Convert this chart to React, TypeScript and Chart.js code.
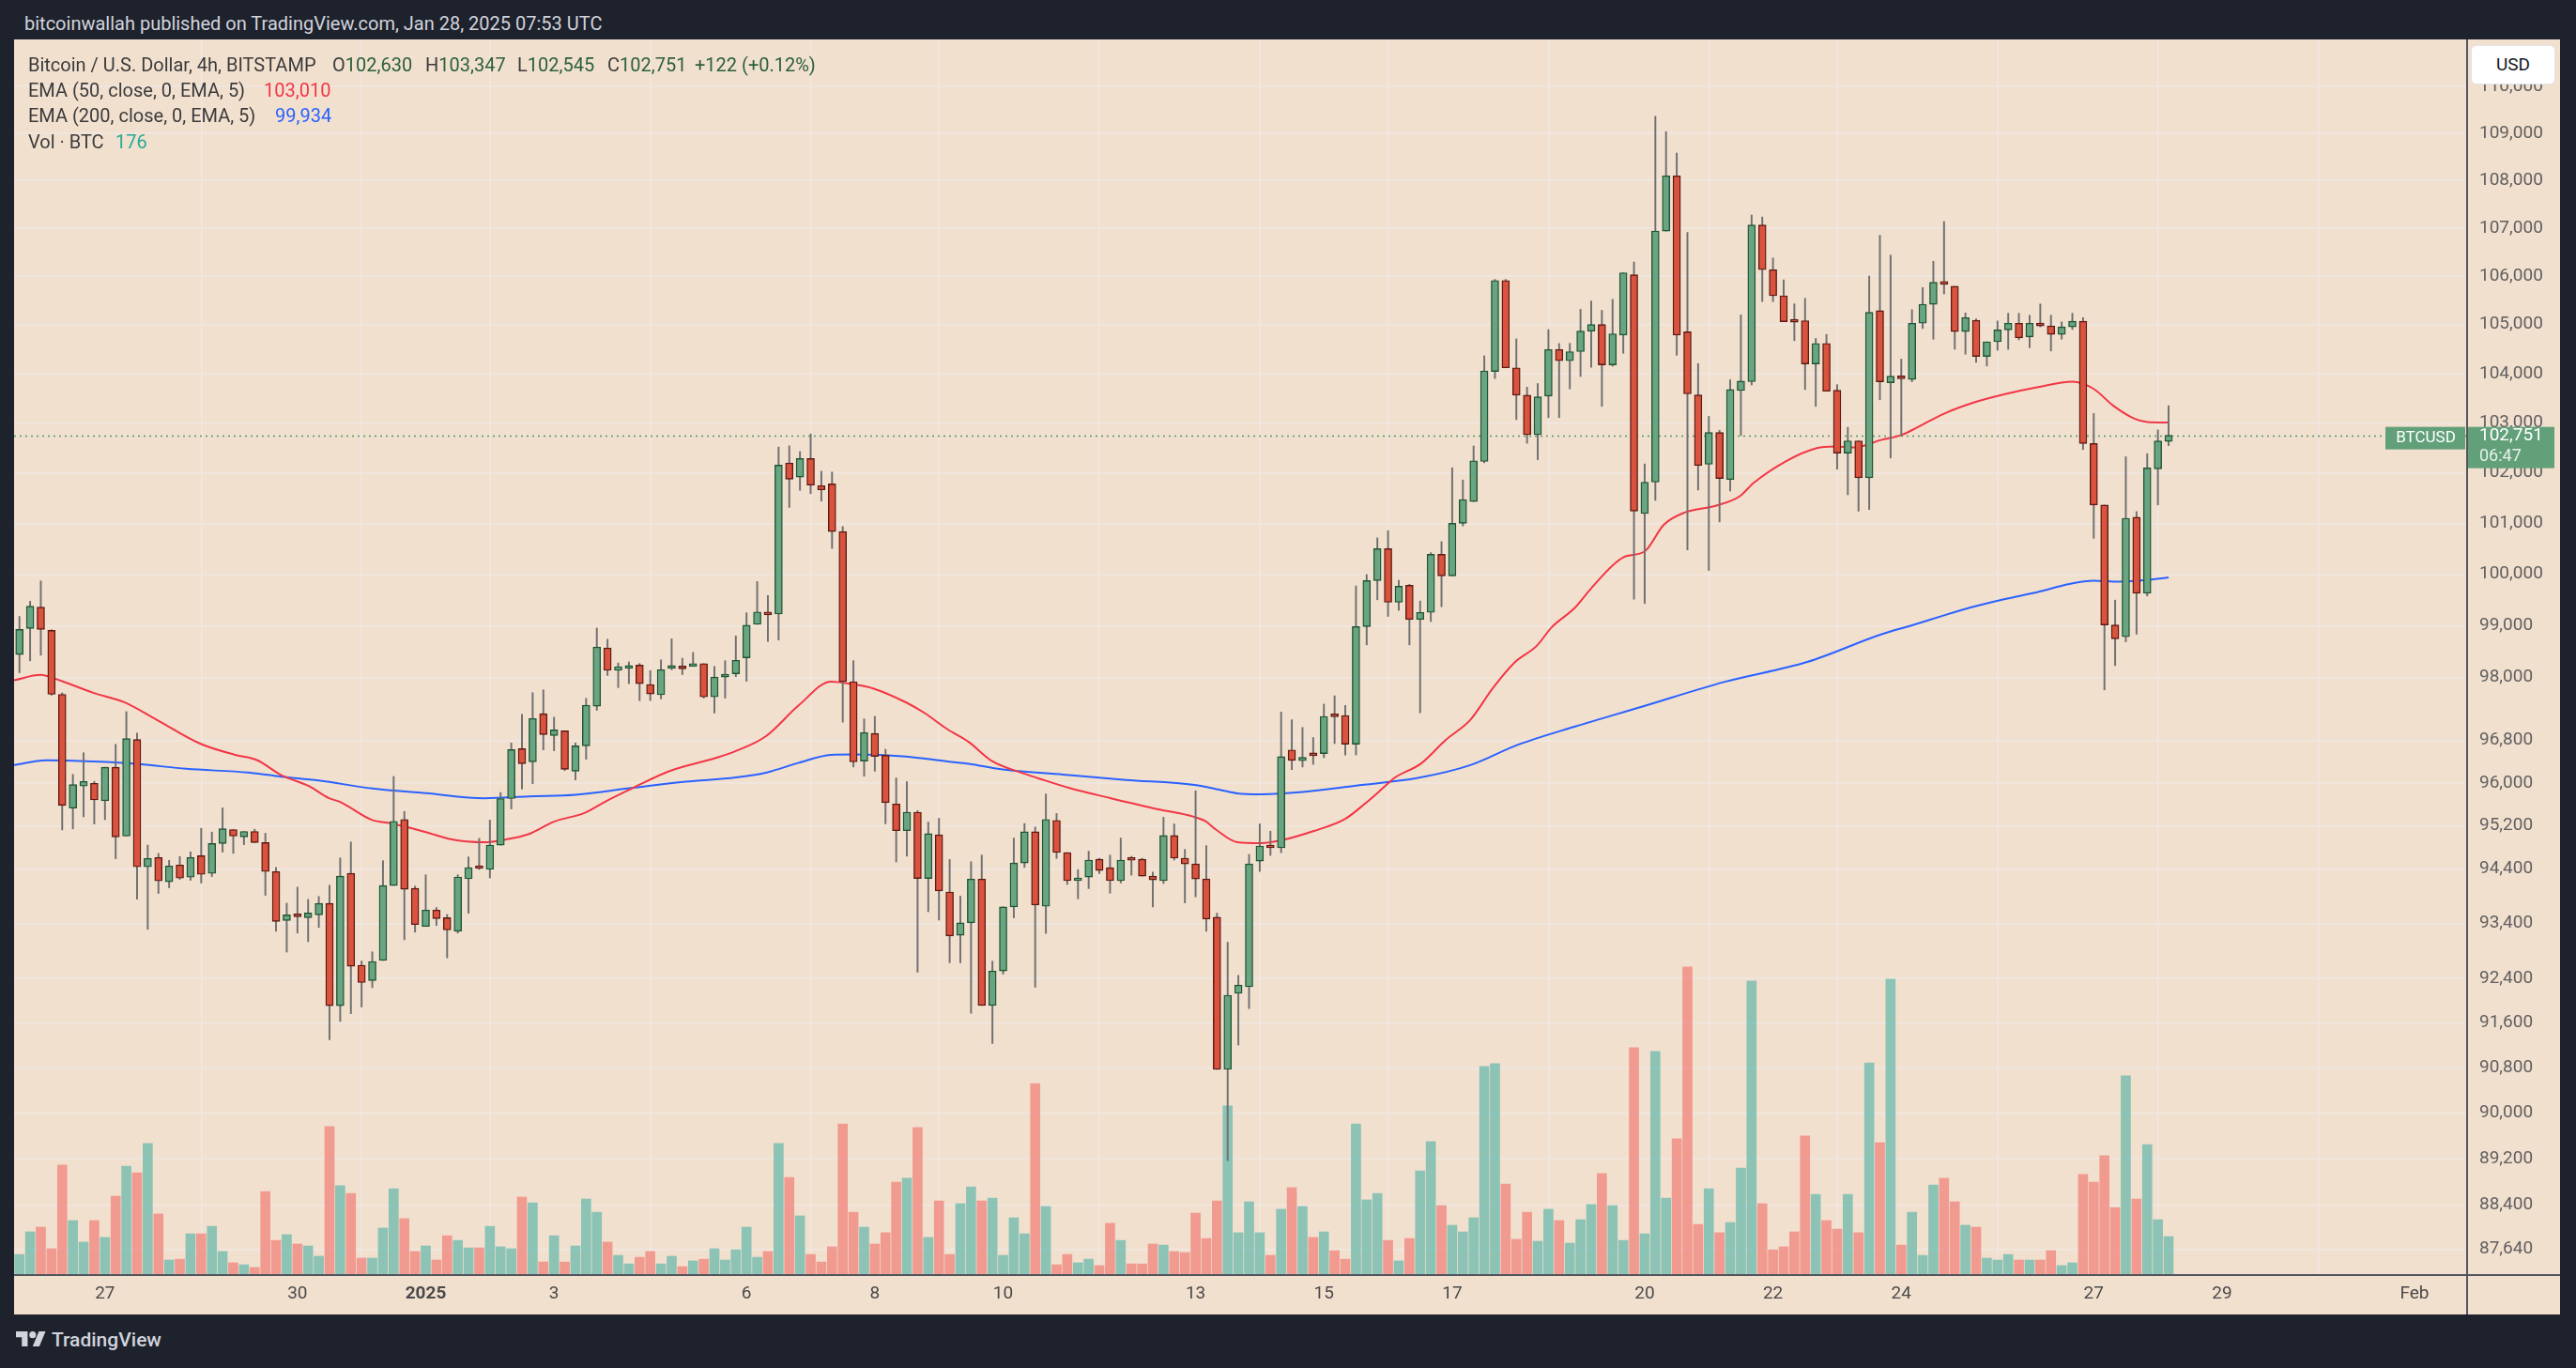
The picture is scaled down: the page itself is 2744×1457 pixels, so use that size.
import React, { useEffect, useRef } from "react";
import { Chart, registerables } from "chart.js";

Chart.register(...registerables);

// BTC/USD 4h candles (Bitstamp). Index 0 = Dec 25, 16:00; one step = 4 hours.
const opens = [
  98440, 98944, 99358, 98908, 97678, 95528, 95942, 95994,
  95666, 96296, 95009, 96820, 94439, 94612, 94163, 94474, 94249, 94646,
  94318, 94871, 95130, 94992, 95096, 94888, 94353, 93454, 93575, 93506,
  93558, 93767, 91911, 94321, 92640, 92362, 92727, 94096, 95319, 94044,
  93344, 93645, 93506, 93258, 94218, 94443, 94391, 94842, 95709, 96647,
  96399, 97308, 96894, 96984, 96222, 96700, 97452, 98568, 98136, 98174,
  98237, 97867, 97669, 98174, 98221, 98213, 98268, 97629, 98008, 98071,
  98378, 99024, 99264, 99224, 102197, 101915, 102287, 101746, 101780, 100837,
  97921, 96412, 96934, 96523, 95608, 95109, 95454, 94224, 95032, 93977,
  93183, 93411, 94213, 91914, 92537, 93703, 94511, 95089, 93714, 95300,
  94704, 94183, 94251, 94581, 94424, 94183, 94570, 94581, 94269, 94183,
  95019, 94599, 94494, 94217, 93514, 90772, 92132, 92250, 94546, 94826,
  94790, 96622, 96418, 96552, 96552, 97257, 97276, 96730, 98980, 99875,
  100500, 99451, 99783, 99118, 99255, 100388, 99967, 101000, 101430, 102228,
  104041, 105909, 104116, 103561, 102763, 103541, 104490, 104259, 104446, 104865,
  105000, 104176, 104784, 106028, 101192, 101815, 106938, 108098, 104851, 103567,
  102171, 102807, 101867, 103654, 103834, 107063, 106132, 105594, 105060, 105080,
  104196, 104615, 103660, 102395, 102640, 101901, 105287, 103813, 103927, 103880,
  105027, 105418, 105871, 105789, 104856, 105089, 104347, 104647, 104890, 105027,
  104747, 105027, 104973, 104800, 104953, 105068, 102586, 101362, 99013, 98782,
  101118, 99627, 102079, 102630,
];
const highs = [
  99178, 99472, 99868, 98920, 97708, 96160, 96569, 96030,
  96296, 96729, 97348, 96940, 94842, 94687, 94560, 94629, 94716, 95153,
  95084, 95533, 95130, 95096, 95136, 95061, 94428, 93771, 94065, 93840,
  93894, 94102, 94605, 94899, 92715, 92883, 94553, 96122, 95467, 94085,
  94292, 93691, 93564, 94292, 94622, 94968, 95307, 95821, 96753, 97296,
  97710, 97764, 97242, 96984, 96753, 97602, 98952, 98736, 98280, 98300,
  98268, 98134, 98339, 98744, 98370, 98481, 98268, 98213, 98323, 98800,
  99248, 99856, 99584, 102516, 102541, 102426, 102779, 102033, 102016, 100935,
  98323, 97210, 97258, 96634, 96095, 96024, 95485, 95270, 95340, 94575,
  93897, 94534, 94657, 92714, 93703, 94972, 95241, 95177, 95794, 95429,
  94704, 94389, 94728, 94599, 94657, 94972, 94634, 94599, 94343, 95359,
  95235, 94762, 95853, 94832, 93588, 93057, 92457, 94669, 95235, 95100,
  97340, 97194, 97048, 96857, 97492, 97651, 97467, 99770, 99993, 100711,
  100855, 99881, 99803, 99477, 100421, 100638, 102101, 101858, 102537, 104361,
  105930, 105930, 104707, 103723, 103797, 104898, 104612, 104615, 105314, 105487,
  105294, 105520, 106069, 106292, 102178, 109363, 109035, 108580, 106910, 104203,
  103133, 102853, 103874, 105200, 107273, 107231, 106375, 105924, 105427, 105540,
  104716, 104797, 103774, 102913, 102640, 106000, 106848, 106435, 104293, 105306,
  105762, 106306, 107136, 105789, 105240, 105116, 104647, 105075, 105233, 105233,
  105192, 105424, 105192, 105055, 105233, 105144, 103193, 101362, 99494, 102322,
  101230, 102382, 102860, 103347,
];
const lows = [
  98092, 98320, 98428, 97660, 95124, 95142, 95366, 95234,
  95315, 94589, 95009, 93846, 93293, 93950, 94053, 94209, 94191, 94140,
  94261, 94710, 94687, 94848, 94888, 93915, 93258, 92878, 93224, 93068,
  93327, 91298, 91628, 91767, 91888, 92235, 92727, 94096, 93102, 93241,
  93344, 93362, 92773, 93223, 93587, 94391, 94235, 94842, 95514, 95886,
  95986, 96623, 96605, 96234, 96057, 96446, 97374, 98040, 97806, 97883,
  97558, 97558, 97590, 98150, 98056, 98213, 97606, 97322, 97606, 98016,
  97929, 99024, 98693, 98720, 101313, 101653, 101585, 101440, 100504, 97148,
  96301, 96127, 96222, 95238, 94530, 94636, 92514, 93614, 93461, 92686,
  92686, 91774, 91914, 91234, 92480, 93503, 94429, 92243, 93217, 94593,
  94115, 93851, 94039, 94314, 93954, 94143, 94286, 94269, 93703, 94131,
  94564, 93777, 93886, 93257, 90772, 89169, 91206, 91858, 94354, 94650,
  94700, 96250, 96300, 96350, 96476, 96743, 96527, 96527, 98627, 99500,
  99177, 99294, 98627, 97327, 99078, 99366, 99967, 100946, 101430, 102202,
  103899, 104116, 103068, 102591, 102262, 103108, 103108, 103687, 103940, 104128,
  103334, 104149, 104412, 99513, 99428, 101452, 106938, 104372, 100477, 101658,
  100073, 101026, 101638, 102747, 103767, 105473, 105473, 105060, 104669, 103674,
  103334, 103640, 102073, 101563, 101239, 101272, 103467, 102296, 102750, 103833,
  104918, 104700, 105630, 104493, 104393, 104227, 104153, 104473, 104493, 104687,
  104527, 104953, 104460, 104700, 104900, 102467, 100704, 97763, 98229, 98686,
  98834, 99575, 101362, 102545,
];
const closes = [
  98926, 99376, 98926, 97678, 95580, 95971, 96030, 95683,
  96296, 94992, 96838, 94439, 94595, 94180, 94456, 94232, 94612, 94301,
  94871, 95147, 95009, 95096, 94888, 94353, 93437, 93558, 93523, 93592,
  93767, 91911, 94269, 92622, 92327, 92709, 94096, 95284, 94027, 93379,
  93645, 93489, 93281, 94252, 94426, 94408, 94842, 95709, 96629, 96363,
  97218, 96912, 97002, 96257, 96700, 97470, 98586, 98136, 98208, 98221,
  97883, 97685, 98150, 98205, 98166, 98268, 97629, 98008, 98063, 98331,
  99008, 99264, 99208, 102155, 101873, 102287, 101754, 101661, 100837, 97921,
  96396, 96950, 96499, 95631, 95109, 95454, 94224, 95055, 93996, 93172,
  93411, 94213, 91914, 92537, 93703, 94511, 95089, 93737, 95318, 94704,
  94183, 94217, 94564, 94371, 94183, 94564, 94560, 94269, 94200, 95019,
  94599, 94494, 94217, 93480, 90772, 92098, 92283, 94494, 94826, 94790,
  96495, 96425, 96482, 96514, 97257, 97250, 96730, 98980, 99875, 100500,
  99451, 99764, 99118, 99255, 100388, 99967, 101000, 101470, 102242, 104054,
  105909, 104116, 103561, 102763, 103527, 104490, 104259, 104446, 104865, 105000,
  104176, 104811, 106069, 101239, 101815, 106938, 108098, 104784, 103587, 102147,
  102807, 101887, 103674, 103847, 107063, 106132, 105594, 105060, 105050, 104196,
  104615, 103640, 102395, 102640, 101901, 105253, 103831, 103947, 103893, 105027,
  105418, 105871, 105830, 104856, 105144, 104347, 104647, 104890, 105027, 104727,
  105027, 104973, 104800, 104953, 105068, 102586, 101362, 99013, 98745, 101099,
  99627, 102099, 102638, 102751,
];
const volumes = [
  92, 198, 220, 119, 511, 251, 150, 251,
  172, 365, 506, 475, 612, 282, 66, 70, 189, 189,
  224, 106, 53, 44, 31, 387, 158, 185, 141, 132,
  84, 691, 414, 378, 75, 75, 216, 400, 260, 106,
  132, 66, 180, 158, 123, 123, 224, 128, 119, 361,
  334, 57, 180, 57, 132, 352, 290, 150, 88, 48,
  79, 106, 48, 84, 35, 62, 70, 119, 66, 114,
  220, 79, 106, 612, 453, 273, 92, 57, 128, 704,
  290, 220, 141, 194, 431, 449, 687, 172, 343, 92,
  330, 409, 343, 356, 88, 264, 189, 893, 317, 44,
  92, 53, 70, 40, 238, 158, 48, 48, 141, 136,
  106, 101, 286, 167, 343, 788, 194, 339, 194, 88,
  304, 405, 317, 172, 198, 110, 70, 704, 348, 378,
  158, 62, 167, 484, 621, 321, 229, 198, 264, 973,
  986, 422, 163, 290, 154, 304, 251, 145, 255, 326,
  471, 321, 158, 1061, 189, 1043, 356, 634, 1439, 233,
  400, 194, 242, 497, 1373, 330, 114, 128, 198, 647,
  374, 251, 211, 374, 194, 990, 616, 1382, 136, 290,
  88, 418, 449, 339, 229, 220, 75, 66, 92, 66,
  66, 66, 110, 40, 53, 467, 431, 555, 312, 929,
  352, 607, 255, 176,
];

// EMA lines (candle index, value)
const ema50Idx = [
  -0.5, 2, 3.3, 6.9, 9.8, 12.8, 16.9, 20.1, 22.2, 24.5, 27.1, 28.9, 30, 33, 34.7, 38,
  40.3, 43.5, 45.3, 47.6, 50, 52.9, 54.9, 57.4, 60.8, 65.2, 67, 69.8, 72.9, 75.9,
  78.1, 79.9, 82.9, 84.6, 86.8, 88.8, 90.9, 93.8, 95.3, 98.2, 102, 106.4, 109.9,
  110.9, 111.9, 113.9, 116.1, 118, 121, 124, 126, 127.5, 128.6, 131.1, 133.4, 135.7,
  137.8, 139.8, 141.9, 143.3, 145.5, 147, 150, 152, 153.8, 155.8, 158.7, 160.9, 162.2,
  165.2, 168.1, 169.8, 171.6, 174.1, 176, 177.3, 180, 182.9, 185.8, 188.7, 192, 194,
  195.8, 197.8, 199, 201,
];
const ema50Val = [
  97948, 98050, 97978, 97708, 97528, 97198, 96741, 96533, 96432, 96148, 95939, 95720, 95644, 95307, 95248, 95084,
  94951, 94893, 94940, 95044, 95278, 95443, 95663, 95909, 96223, 96475, 96601, 96879, 97471, 97921,
  97866, 97787, 97526, 97329, 97013, 96771, 96420, 96187, 96088, 95906, 95718, 95512, 95365,
  95289, 95130, 94895, 94877, 94930, 95100, 95330, 95640, 95900, 96095, 96368, 96813, 97194,
  97797, 98281, 98608, 98967, 99350, 99724, 100329, 100447, 100974, 101217, 101349, 101536, 101800,
  102230, 102494, 102526, 102507, 102658, 102757, 102888, 103187, 103420, 103587, 103720, 103833, 103687,
  103353, 103087, 103020, 103010,
];
const ema200Idx = [
  -0.5, 2.5, 6.9, 11.2, 15.6, 21.4, 24.5, 28, 33, 38, 43.5, 47.6, 52, 57.4, 62.3, 67,
  69.9, 72.9, 75.9, 78.1, 82.9, 86.8, 88.8, 91.8, 97.6, 103.5, 109.9, 112.2, 113.9, 116.1,
  120, 125, 130.8, 135.7, 140.1, 145.5, 151.8, 159.5, 167.2, 174.1, 177, 180, 182.9,
  185.8, 188.7, 191.7, 194, 196.4, 199, 201,
];
const ema200Val = [
  96337, 96426, 96403, 96355, 96266, 96196, 96119, 96047, 95897, 95809, 95714, 95750, 95779, 95909, 96024, 96103,
  96198, 96380, 96530, 96538, 96499, 96404, 96362, 96257, 96158, 96058, 95965, 95877, 95806, 95788,
  95830, 95950, 96095, 96336, 96717, 97067, 97445, 97918, 98298, 98827, 99006, 99198, 99372,
  99519, 99648, 99808, 99872, 99853, 99885, 99934,
];

const dayTickIndex = [8, 26, 38, 50, 68, 80, 92, 110, 122, 134, 152, 164, 176, 194, 206, 224];
const dayTickLabels = ["27", "30", "2025", "3", "6", "8", "10", "13", "15", "17", "20", "22", "24", "27", "29", "Feb"];
const priceTicks = [
  87640, 88400, 89200, 90000, 90800, 91600, 92400, 93400, 94400, 95200, 96000, 96800,
  98000, 99000, 100000, 101000, 102000, 103000, 104000, 105000, 106000, 107000, 108000, 109000, 110000,
];

const X_MIN = -0.5;
const X_MAX = 228.83;
const P_MIN = 87212;
const P_MAX = 111019;
const V_MAX = 5786;

const UP_BODY = "#6aa583";
const UP_BORDER = "#1f5632";
const DN_BODY = "#d9533f";
const DN_BORDER = "#5e1a12";
const WICK = "#707070";
const VOL_UP = "rgba(38,166,154,0.5)";
const VOL_DN = "rgba(239,83,80,0.5)";
const TAG = "#62a07a";
const FONT = "Roboto";

const fmt = (v: number) => Math.round(v).toLocaleString("en-US");

const overlayPlugin = {
  id: "overlay",
  beforeDatasetsDraw(chart: any) {
    const { ctx, chartArea, scales } = chart;
    const y = Math.round(scales.y.getPixelForValue(closes[closes.length - 1])) + 0.5;
    ctx.save();
    ctx.setLineDash([2, 4]);
    ctx.strokeStyle = "#4e9a6c";
    ctx.lineWidth = 1.5;
    ctx.beginPath();
    ctx.moveTo(chartArea.left, y);
    ctx.lineTo(chartArea.right, y);
    ctx.stroke();
    ctx.restore();
  },
  afterDraw(chart: any) {
    const { ctx, chartArea, scales, width, height } = chart;
    ctx.save();
    ctx.strokeStyle = "#52555e";
    ctx.lineWidth = 2;
    ctx.beginPath();
    ctx.moveTo(chartArea.right + 1, 0);
    ctx.lineTo(chartArea.right + 1, height);
    ctx.moveTo(0, chartArea.bottom + 1);
    ctx.lineTo(width, chartArea.bottom + 1);
    ctx.stroke();

    const last = closes[closes.length - 1];
    const y = scales.y.getPixelForValue(last);
    // on-chart symbol tag
    ctx.fillStyle = TAG;
    ctx.fillRect(chartArea.right - 86, y - 9, 85, 24);
    ctx.fillStyle = "#ffffff";
    ctx.font = `17px ${FONT}`;
    ctx.textAlign = "center";
    ctx.textBaseline = "middle";
    ctx.fillText("BTCUSD", chartArea.right - 43, y + 3);
    // axis price tag
    ctx.fillStyle = TAG;
    ctx.fillRect(chartArea.right + 2, y - 9, 92, 44);
    ctx.fillStyle = "#ffffff";
    ctx.textAlign = "left";
    ctx.font = `19px ${FONT}`;
    ctx.fillText(fmt(last), chartArea.right + 14, y + 1);
    ctx.font = `18px ${FONT}`;
    ctx.fillStyle = "rgba(255,255,255,0.85)";
    ctx.fillText("06:47", chartArea.right + 14, y + 23);
    ctx.restore();
  },
};

export default function App() {
  const ref = useRef<HTMLCanvasElement>(null);

  useEffect(() => {
    document.body.style.margin = "0";
    const canvas = ref.current as HTMLCanvasElement;
    const idx = opens.map((_, i) => i);
    const up = opens.map((o, i) => closes[i] >= o);
    const chart = new Chart(canvas, {
      type: "bar",
      data: {
        datasets: [
          {
            type: "bar",
            label: "body",
            data: idx.map((i) => ({ x: i, y: [opens[i], closes[i]] })) as any,
            backgroundColor: up.map((u) => (u ? UP_BODY : DN_BODY)),
            borderColor: up.map((u) => (u ? UP_BORDER : DN_BORDER)),
            borderWidth: 1.4,
            borderSkipped: false,
            barThickness: 8,
            grouped: false,
            minBarLength: 3,
            order: 0,
            yAxisID: "y",
          } as any,
          {
            type: "bar",
            label: "wick",
            data: idx.map((i) => ({ x: i, y: [lows[i], highs[i]] })) as any,
            backgroundColor: WICK,
            barThickness: 1.3,
            grouped: false,
            order: 1,
            yAxisID: "y",
          } as any,
          {
            type: "line",
            label: "EMA 50",
            data: ema50Idx.map((x, k) => ({ x, y: ema50Val[k] })),
            borderColor: "#f23645",
            borderWidth: 2,
            pointRadius: 0,
            cubicInterpolationMode: "monotone",
            order: 2,
            yAxisID: "y",
          } as any,
          {
            type: "line",
            label: "EMA 200",
            data: ema200Idx.map((x, k) => ({ x, y: ema200Val[k] })),
            borderColor: "#2962ff",
            borderWidth: 2,
            pointRadius: 0,
            cubicInterpolationMode: "monotone",
            order: 3,
            yAxisID: "y",
          } as any,
          {
            type: "bar",
            label: "Vol",
            data: idx.map((i) => ({ x: i, y: volumes[i] })) as any,
            backgroundColor: up.map((u) => (u ? VOL_UP : VOL_DN)),
            barThickness: 10,
            grouped: false,
            order: 4,
            yAxisID: "yv",
          } as any,
        ],
      },
      options: {
        responsive: false,
        animation: false,
        devicePixelRatio: 1,
        events: [],
        layout: { padding: 0 },
        plugins: { legend: { display: false }, tooltip: { enabled: false } },
        scales: {
          x: {
            type: "linear",
            min: X_MIN,
            max: X_MAX,
            bounds: "data",
            offset: false,
            afterBuildTicks: (s: any) => {
              s.ticks = dayTickIndex.map((v) => ({ value: v }));
            },
            afterFit: (s: any) => {
              s.height = 43;
              s.paddingLeft = 0;
              s.paddingRight = 0;
              s.paddingTop = 0;
              s.paddingBottom = 0;
            },
            ticks: {
              autoSkip: false,
              maxRotation: 0,
              padding: 10,
              color: "#4a4a4a",
              font: (c: any) => ({
                family: FONT,
                size: 19,
                weight: c.tick && c.tick.value === 38 ? "bold" : "normal",
              }),
              callback: (v: any) => {
                const k = dayTickIndex.indexOf(Number(v));
                return k >= 0 ? dayTickLabels[k] : "";
              },
            },
            grid: { color: "rgba(236,236,242,0.55)", lineWidth: 1.5, drawTicks: false },
            border: { display: false },
          },
          y: {
            type: "logarithmic",
            position: "right",
            min: P_MIN,
            max: P_MAX,
            bounds: "data",
            afterBuildTicks: (s: any) => {
              s.ticks = priceTicks.map((v) => ({ value: v }));
            },
            afterFit: (s: any) => {
              s.width = 100;
              s.paddingTop = 0;
              s.paddingBottom = 0;
              s.paddingLeft = 0;
              s.paddingRight = 0;
            },
            ticks: {
              autoSkip: false,
              padding: 14,
              color: "#606060",
              font: { family: FONT, size: 19 },
              callback: (v: any) => fmt(Number(v)),
            },
            grid: { color: "rgba(236,236,242,0.55)", lineWidth: 1.5, drawTicks: false },
            border: { display: false },
          },
          yv: {
            type: "linear",
            display: false,
            min: 0,
            max: V_MAX,
          },
        },
      } as any,
      plugins: [overlayPlugin],
    });
    return () => chart.destroy();
  }, []);

  const legendLabel: React.CSSProperties = {
    position: "absolute",
    fontFamily: FONT,
    fontSize: 20,
    lineHeight: "24px",
    whiteSpace: "nowrap",
    color: "#3b3b3b",
  };
  const green = "#2a5f3a";

  const seg = (left: number, cy: number, children: React.ReactNode) => (
    <div style={{ ...legendLabel, left, top: cy - 12 }}>{children}</div>
  );

  return (
    <div
      style={{
        position: "absolute",
        left: 0,
        top: 0,
        width: 2744,
        height: 1457,
        background: "#1e222d",
        overflow: "hidden",
      }}
    >
      <div
        style={{
          position: "absolute",
          left: 26,
          top: 12,
          fontFamily: FONT,
          fontSize: 20,
          lineHeight: "26px",
          color: "#d1d4dc",
          whiteSpace: "nowrap",
        }}
      >
        bitcoinwallah published on TradingView.com, Jan 28, 2025 07:53 UTC
      </div>
      <canvas
        ref={ref}
        width={2712}
        height={1358}
        style={{ position: "absolute", left: 15, top: 42, width: 2712, height: 1358, background: "#f2e0cf" }}
      />
      {seg(30, 69, "Bitcoin / U.S. Dollar, 4h, BITSTAMP")}
      {seg(354, 69, <span>O<span style={{ color: green }}>102,630</span></span>)}
      {seg(453, 69, <span>H<span style={{ color: green }}>103,347</span></span>)}
      {seg(551, 69, <span>L<span style={{ color: green }}>102,545</span></span>)}
      {seg(647, 69, <span>C<span style={{ color: green }}>102,751</span></span>)}
      {seg(740, 69, <span style={{ color: green }}>+122 (+0.12%)</span>)}
      {seg(30, 96, "EMA (50, close, 0, EMA, 5)")}
      {seg(281, 96, <span style={{ color: "#f23645" }}>103,010</span>)}
      {seg(30, 123, "EMA (200, close, 0, EMA, 5)")}
      {seg(293, 123, <span style={{ color: "#2962ff" }}>99,934</span>)}
      {seg(30, 151, "Vol · BTC")}
      {seg(123, 151, <span style={{ color: "#22ab94" }}>176</span>)}
      <div
        style={{
          position: "absolute",
          left: 2632,
          top: 48,
          width: 90,
          height: 42,
          background: "#ffffff",
          borderRadius: 6,
          border: "1px solid #e0e3eb",
          boxSizing: "border-box",
          fontFamily: FONT,
          fontSize: 19,
          lineHeight: "40px",
          textAlign: "center",
          color: "#131722",
        }}
      >
        USD
      </div>
      <div style={{ position: "absolute", left: 17, top: 1414, display: "flex", alignItems: "center" }}>
        <svg width="32" height="26" viewBox="0 0 36 28">
          <path d="M14 22H7V11H0V4h14v18zM28 22h-8l7.5-18h8L28 22z" fill="#d1d4dc" />
          <circle cx="20" cy="8" r="4" fill="#d1d4dc" />
        </svg>
        <span
          style={{
            marginLeft: 6,
            fontFamily: FONT,
            fontSize: 21,
            fontWeight: 500,
            color: "#d1d4dc",
            whiteSpace: "nowrap",
          }}
        >
          TradingView
        </span>
      </div>
    </div>
  );
}
